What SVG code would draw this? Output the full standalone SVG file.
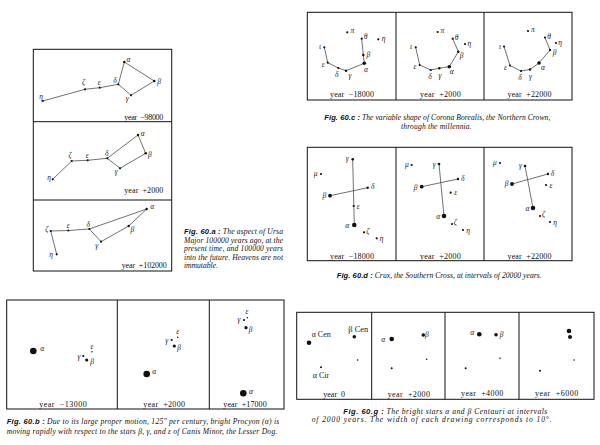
<svg xmlns="http://www.w3.org/2000/svg" width="600" height="445" viewBox="0 0 600 445">
<style>
.bg{fill:#fff}
.box{fill:none;stroke:#111;stroke-width:1}
.ln{fill:none;stroke:#333;stroke-width:0.7}
.s{fill:#111}
.g{font-family:"Liberation Serif","DejaVu Serif",serif;font-style:italic;font-size:7.5px;fill:#222;text-anchor:middle}
.lb{font-family:"Liberation Serif","DejaVu Serif",serif;font-size:8px;fill:#222}
.yr{font-family:"Liberation Serif","DejaVu Serif",serif;font-size:8px;fill:#111;white-space:pre}
.cap{font-family:"Liberation Serif","DejaVu Serif",serif;font-style:italic;font-size:7.6px;fill:#111}
.fig{font-family:"Liberation Sans","DejaVu Sans",sans-serif;font-weight:bold;font-style:italic}
</style>
<rect class="bg" x="0" y="0" width="600" height="445"/>

<!-- Frames -->
<g id="frames">
<rect class="box" x="33.3" y="49.3" width="138.4" height="221.7"/>
<line class="box" x1="33.3" y1="121.7" x2="171.7" y2="121.7"/>
<line class="box" x1="33.3" y1="200" x2="171.7" y2="200"/>
<rect class="box" x="6.7" y="300" width="277.3" height="109"/>
<line class="box" x1="117.3" y1="300" x2="117.3" y2="409"/>
<line class="box" x1="209.3" y1="300" x2="209.3" y2="409"/>
<rect class="box" x="307.3" y="12.3" width="264.7" height="87.7"/>
<line class="box" x1="396" y1="12.3" x2="396" y2="100"/>
<line class="box" x1="484" y1="12.3" x2="484" y2="100"/>
<rect class="box" x="307.3" y="147.3" width="264.7" height="113.4"/>
<line class="box" x1="396" y1="147.3" x2="396" y2="260.7"/>
<line class="box" x1="484" y1="147.3" x2="484" y2="260.7"/>
<rect class="box" x="296.7" y="312.3" width="297.3" height="87"/>
<line class="box" x1="371.7" y1="312.3" x2="371.7" y2="399.3"/>
<line class="box" x1="445" y1="312.3" x2="445" y2="399.3"/>
<line class="box" x1="519" y1="312.3" x2="519" y2="399.3"/>
</g>

<!-- Connectors -->
<g id="connectors">
<polyline class="ln" points="42.7,101 85,89.3 99.7,87.7 118.3,84.3"/>
<polygon class="ln" points="118.3,84.3 124.3,62 154.3,81 131,95.3"/>
<polyline class="ln" points="52.7,179.3 71.7,161 87.7,160.3 107.3,158.3"/>
<polygon class="ln" points="107.3,158.3 138,135 145.7,153.3 120,168.3"/>
<polyline class="ln" points="56.7,254.3 50.7,231 68.3,230.5 89.3,229"/>
<polygon class="ln" points="89.3,229 146.7,209 128.7,226 101,241.7"/>
<polyline class="ln" points="324.3,47.3 327.7,62.7 338.3,68 346,70.7 364.3,63.3 363.3,55 361.7,38.7"/>
<polyline class="ln" points="415.7,47.3 419.7,65 430.7,70 439.3,68.3 449.3,66.7 458.3,51.7 452.7,38.7"/>
<polyline class="ln" points="504,46.5 510,65.5 521,71 530,69.5 539,63 550,50 545,37.5"/>
<line class="ln" x1="352.7" y1="159.3" x2="354.3" y2="225"/>
<line class="ln" x1="330" y1="195.7" x2="367.7" y2="187.7"/>
<line class="ln" x1="439" y1="164" x2="444" y2="216"/>
<line class="ln" x1="421.7" y1="186.7" x2="458" y2="179"/>
<line class="ln" x1="525" y1="166" x2="533" y2="208"/>
<line class="ln" x1="512" y1="184" x2="548" y2="174"/>
</g>

<!-- Fig 60.a panel 1 -->
<g id="a1">
<g id="a1-eta"><circle class="s" cx="42.7" cy="101" r="1.1"/><text class="g" x="41" y="98.5">η</text></g>
<g id="a1-zeta"><circle class="s" cx="85" cy="89.3" r="1.1"/><text class="g" x="83.5" y="85.2">ζ</text></g>
<g id="a1-eps"><circle class="s" cx="99.7" cy="87.7" r="1.1"/><text class="g" x="99.3" y="85.2">ε</text></g>
<g id="a1-delta"><circle class="s" cx="118.3" cy="84.3" r="1.1"/><text class="g" x="115" y="82.5">δ</text></g>
<g id="a1-alpha"><circle class="s" cx="124.3" cy="62" r="1.2"/><text class="g" x="128.5" y="62">α</text></g>
<g id="a1-beta"><circle class="s" cx="154.3" cy="81" r="1.2"/><text class="g" x="159" y="84.2">β</text></g>
<g id="a1-gamma"><circle class="s" cx="131" cy="95.3" r="1.1"/><text class="g" x="127.3" y="101">γ</text></g>
<text class="yr" x="124.3" y="120.3" textLength="39" lengthAdjust="spacing">year  −98000</text>
</g>
<!-- Fig 60.a panel 2 -->
<g id="a2">
<g id="a2-alpha"><circle class="s" cx="138" cy="135" r="1.2"/><text class="g" x="142.7" y="135.8">α</text></g>
<g id="a2-beta"><circle class="s" cx="145.7" cy="153.3" r="1.2"/><text class="g" x="149.8" y="156.8">β</text></g>
<g id="a2-gamma"><circle class="s" cx="120" cy="168.3" r="1.1"/><text class="g" x="116.3" y="174.2">γ</text></g>
<g id="a2-delta"><circle class="s" cx="107.3" cy="158.3" r="1.1"/><text class="g" x="106.7" y="155.8">δ</text></g>
<g id="a2-eps"><circle class="s" cx="87.7" cy="160.3" r="1.1"/><text class="g" x="87.3" y="157.5">ε</text></g>
<g id="a2-zeta"><circle class="s" cx="71.7" cy="161" r="1.1"/><text class="g" x="70" y="157.5">ζ</text></g>
<g id="a2-eta"><circle class="s" cx="52.7" cy="179.3" r="1.1"/><text class="g" x="49" y="180.2">η</text></g>
<text class="yr" x="124.3" y="192.6" textLength="39" lengthAdjust="spacing">year  +2000</text>
</g>
<!-- Fig 60.a panel 3 -->
<g id="a3">
<g id="a3-alpha"><circle class="s" cx="146.7" cy="209" r="1.2"/><text class="g" x="152.3" y="209.2">α</text></g>
<g id="a3-beta"><circle class="s" cx="128.7" cy="226" r="1.2"/><text class="g" x="132.3" y="232">β</text></g>
<g id="a3-delta"><circle class="s" cx="89.3" cy="229" r="1.1"/><text class="g" x="88.3" y="226.5">δ</text></g>
<g id="a3-eps"><circle class="s" cx="68.3" cy="230.5" r="1.1"/><text class="g" x="68.3" y="228">ε</text></g>
<g id="a3-zeta"><circle class="s" cx="50.7" cy="231" r="1.1"/><text class="g" x="46.7" y="232">ζ</text></g>
<g id="a3-gamma"><circle class="s" cx="101" cy="241.7" r="1.1"/><text class="g" x="96.7" y="247.5">γ</text></g>
<g id="a3-eta"><circle class="s" cx="56.7" cy="254.3" r="1.1"/><text class="g" x="51" y="256.8">η</text></g>
<text class="yr" x="121.7" y="267.5" textLength="45" lengthAdjust="spacing">year  +102000</text>
</g>
<g id="cap-a">
<text class="cap" x="184" y="234.2" textLength="99" lengthAdjust="spacing"><tspan class="fig">Fig. 60.a :</tspan> The aspect of Ursa</text>
<text class="cap" x="184" y="242.5" textLength="99" lengthAdjust="spacing">Major 100000 years ago, at the</text>
<text class="cap" x="184" y="251.2" textLength="99" lengthAdjust="spacing">present time, and 100000 years</text>
<text class="cap" x="184" y="259.8" textLength="99" lengthAdjust="spacing">into the future. Heavens are not</text>
<text class="cap" x="184" y="268.2">immutable.</text>
</g>

<!-- Fig 60.b -->
<g id="b1">
<g id="b1-alpha"><circle class="s" cx="33.3" cy="351" r="3.3"/><text class="g" x="42.3" y="350.8">α</text></g>
<g id="b1-eps"><circle class="s" cx="92" cy="351.7" r="0.8"/><text class="g" x="92" y="349">ε</text></g>
<g id="b1-gamma"><circle class="s" cx="83.3" cy="356" r="1.1"/><text class="g" x="79" y="359">γ</text></g>
<g id="b1-beta"><circle class="s" cx="86.7" cy="360" r="1.6"/><text class="g" x="92" y="364">β</text></g>
<text class="yr" x="39.3" y="406.5" textLength="47.4" lengthAdjust="spacing">year  −13000</text>
</g>
<g id="b2">
<g id="b2-alpha"><circle class="s" cx="146.7" cy="374" r="3.3"/><text class="g" x="154.3" y="374.2">α</text></g>
<g id="b2-gamma"><circle class="s" cx="171.7" cy="340" r="1.1"/><text class="g" x="166.7" y="343">γ</text></g>
<g id="b2-eps"><circle class="s" cx="177.7" cy="337.3" r="0.8"/><text class="g" x="177.7" y="334.2">ε</text></g>
<g id="b2-beta"><circle class="s" cx="174.3" cy="346" r="1.6"/><text class="g" x="179" y="350.2">β</text></g>
<text class="yr" x="143.3" y="406.5" textLength="41.7" lengthAdjust="spacing">year  +2000</text>
</g>
<g id="b3">
<g id="b3-gamma"><circle class="s" cx="244" cy="320" r="1.1"/><text class="g" x="239" y="322">γ</text></g>
<g id="b3-eps"><circle class="s" cx="247.3" cy="317.7" r="0.8"/><text class="g" x="247" y="314.2">ε</text></g>
<g id="b3-beta"><circle class="s" cx="246" cy="327.7" r="1.6"/><text class="g" x="250.7" y="331.8">β</text></g>
<g id="b3-alpha"><circle class="s" cx="243.3" cy="393.3" r="3.3"/><text class="g" x="251" y="394.2">α</text></g>
<text class="yr" x="223.3" y="406.5" textLength="43.4" lengthAdjust="spacing">year  +17000</text>
</g>
<g id="cap-b">
<text class="cap" x="6.7" y="424.2" textLength="272.6" lengthAdjust="spacing"><tspan class="fig">Fig. 60.b :</tspan> Due to its large proper motion, 125″ per century, bright Procyon (α) is</text>
<text class="cap" x="6.7" y="433.5" textLength="270.6" lengthAdjust="spacing">moving rapidly with respect to the stars β, γ, and ε of Canis Minor, the Lesser Dog.</text>
</g>

<!-- Fig 60.c -->
<g id="c1">
<g id="c1-pi"><circle class="s" cx="347.3" cy="32.3" r="1.1"/><text class="g" x="352.3" y="33.2">π</text></g>
<g id="c1-theta"><circle class="s" cx="361.7" cy="38.7" r="1.1"/><text class="g" x="365.7" y="39.2">θ</text></g>
<g id="c1-eta"><circle class="s" cx="378.3" cy="39.3" r="1.1"/><text class="g" x="383.7" y="41.2">η</text></g>
<g id="c1-iota"><circle class="s" cx="324.3" cy="47.3" r="1.1"/><text class="g" x="320" y="49.2">ι</text></g>
<g id="c1-beta"><circle class="s" cx="363.3" cy="55" r="1.2"/><text class="g" x="368.3" y="56.8">β</text></g>
<g id="c1-alpha"><circle class="s" cx="364.3" cy="63.3" r="1.8"/><text class="g" x="366" y="71.8">α</text></g>
<g id="c1-eps"><circle class="s" cx="327.7" cy="62.7" r="1.1"/><text class="g" x="323.3" y="66.8">ε</text></g>
<g id="c1-delta"><circle class="s" cx="338.3" cy="68" r="1.1"/><text class="g" x="336.7" y="76.5">δ</text></g>
<g id="c1-gamma"><circle class="s" cx="346" cy="70.7" r="1.2"/><text class="g" x="350" y="77.8">γ</text></g>
<text class="yr" x="330" y="96.8" textLength="44" lengthAdjust="spacing">year  −18000</text>
</g>
<g id="c2">
<g id="c2-pi"><circle class="s" cx="437.7" cy="32" r="1.1"/><text class="g" x="442.3" y="32.5">π</text></g>
<g id="c2-theta"><circle class="s" cx="452.7" cy="38.7" r="1.1"/><text class="g" x="456.7" y="39.8">θ</text></g>
<g id="c2-eta"><circle class="s" cx="465" cy="44" r="1.1"/><text class="g" x="469.3" y="45.8">η</text></g>
<g id="c2-iota"><circle class="s" cx="415.7" cy="47.3" r="1.1"/><text class="g" x="411" y="49.2">ι</text></g>
<g id="c2-beta"><circle class="s" cx="458.3" cy="51.7" r="1.2"/><text class="g" x="461.7" y="57.5">β</text></g>
<g id="c2-alpha"><circle class="s" cx="449.3" cy="66.7" r="1.8"/><text class="g" x="451.7" y="74.2">α</text></g>
<g id="c2-eps"><circle class="s" cx="419.7" cy="65" r="1.1"/><text class="g" x="415" y="69.2">ε</text></g>
<g id="c2-delta"><circle class="s" cx="430.7" cy="70" r="1.1"/><text class="g" x="430" y="79.2">δ</text></g>
<g id="c2-gamma"><circle class="s" cx="439.3" cy="68.3" r="1.2"/><text class="g" x="440" y="77.8">γ</text></g>
<text class="yr" x="420" y="96.8" textLength="40.7" lengthAdjust="spacing">year  +2000</text>
</g>
<g id="c3">
<g id="c3-pi"><circle class="s" cx="528" cy="31" r="1.1"/><text class="g" x="533" y="32">π</text></g>
<g id="c3-theta"><circle class="s" cx="545" cy="37.5" r="1.1"/><text class="g" x="549" y="38.5">θ</text></g>
<g id="c3-eta"><circle class="s" cx="556" cy="43" r="1.1"/><text class="g" x="560" y="45">η</text></g>
<g id="c3-iota"><circle class="s" cx="504" cy="46.5" r="1.1"/><text class="g" x="500" y="48.5">ι</text></g>
<g id="c3-beta"><circle class="s" cx="550" cy="50" r="1.2"/><text class="g" x="554.5" y="54.5">β</text></g>
<g id="c3-alpha"><circle class="s" cx="539" cy="63" r="1.8"/><text class="g" x="543" y="70">α</text></g>
<g id="c3-eps"><circle class="s" cx="510" cy="65.5" r="1.1"/><text class="g" x="505.5" y="70">ε</text></g>
<g id="c3-delta"><circle class="s" cx="521" cy="71" r="1.1"/><text class="g" x="520" y="80">δ</text></g>
<g id="c3-gamma"><circle class="s" cx="530" cy="69.5" r="1.2"/><text class="g" x="530.5" y="78.5">γ</text></g>
<text class="yr" x="507.5" y="96.8" textLength="44" lengthAdjust="spacing">year  +22000</text>
</g>
<g id="cap-c">
<text class="cap" x="324.3" y="119.8" textLength="226" lengthAdjust="spacing"><tspan class="fig">Fig. 60.c :</tspan> The variable shape of Corona Borealis, the Northern Crown,</text>
<text class="cap" x="401" y="128.5" textLength="70.7" lengthAdjust="spacing">through the millennia.</text>
</g>

<!-- Fig 60.d -->
<g id="d1">
<g id="d1-gamma"><circle class="s" cx="352.7" cy="159.3" r="1.3"/><text class="g" x="347.3" y="160.8">γ</text></g>
<g id="d1-mu"><circle class="s" cx="321" cy="174" r="1.1"/><text class="g" x="315.7" y="175.8">μ</text></g>
<g id="d1-delta"><circle class="s" cx="367.7" cy="187.7" r="1.2"/><text class="g" x="372.7" y="189.2">δ</text></g>
<g id="d1-beta"><circle class="s" cx="330" cy="195.7" r="1.9"/><text class="g" x="324.3" y="198.2">β</text></g>
<g id="d1-eps"><circle class="s" cx="353.7" cy="206" r="1.1"/><text class="g" x="358.3" y="208.5">ε</text></g>
<g id="d1-alpha"><circle class="s" cx="354.3" cy="225" r="2.3"/><text class="g" x="347.3" y="227.5">α</text></g>
<g id="d1-zeta"><circle class="s" cx="364" cy="232.3" r="1.1"/><text class="g" x="367.7" y="233.5">ζ</text></g>
<g id="d1-eta"><circle class="s" cx="376.7" cy="238.3" r="1.1"/><text class="g" x="381.7" y="241.2">η</text></g>
<text class="yr" x="330" y="258.5" textLength="44" lengthAdjust="spacing">year  −18000</text>
</g>
<g id="d2">
<g id="d2-mu"><circle class="s" cx="411.7" cy="165" r="1.1"/><text class="g" x="407" y="166.8">μ</text></g>
<g id="d2-gamma"><circle class="s" cx="439" cy="164" r="1.3"/><text class="g" x="434.3" y="166.5">γ</text></g>
<g id="d2-delta"><circle class="s" cx="458" cy="179" r="1.2"/><text class="g" x="462.7" y="181.2">δ</text></g>
<g id="d2-beta"><circle class="s" cx="421.7" cy="186.7" r="1.9"/><text class="g" x="415.7" y="189.8">β</text></g>
<g id="d2-eps"><circle class="s" cx="450.7" cy="192.7" r="1.1"/><text class="g" x="455.7" y="195.2">ε</text></g>
<g id="d2-alpha"><circle class="s" cx="444" cy="216" r="2.3"/><text class="g" x="438.3" y="218.5">α</text></g>
<g id="d2-zeta"><circle class="s" cx="452" cy="224" r="1.1"/><text class="g" x="455.3" y="224.5">ζ</text></g>
<g id="d2-eta"><circle class="s" cx="463" cy="230" r="1.1"/><text class="g" x="468" y="232.8">η</text></g>
<text class="yr" x="420" y="258.5" textLength="40.7" lengthAdjust="spacing">year  +2000</text>
</g>
<g id="d3">
<g id="d3-mu"><circle class="s" cx="500" cy="163" r="1.1"/><text class="g" x="495" y="164.5">μ</text></g>
<g id="d3-gamma"><circle class="s" cx="525" cy="166" r="1.3"/><text class="g" x="520.5" y="168">γ</text></g>
<g id="d3-delta"><circle class="s" cx="548" cy="174" r="1.2"/><text class="g" x="552.5" y="176">δ</text></g>
<g id="d3-beta"><circle class="s" cx="512" cy="184" r="1.9"/><text class="g" x="506.5" y="186.2">β</text></g>
<g id="d3-eps"><circle class="s" cx="546" cy="185" r="1.1"/><text class="g" x="551" y="187.5">ε</text></g>
<g id="d3-alpha"><circle class="s" cx="533" cy="208" r="2.3"/><text class="g" x="527.5" y="210.5">α</text></g>
<g id="d3-zeta"><circle class="s" cx="540" cy="216" r="1.1"/><text class="g" x="543.5" y="217">ζ</text></g>
<g id="d3-eta"><circle class="s" cx="550" cy="222" r="1.1"/><text class="g" x="555" y="224.5">η</text></g>
<text class="yr" x="507.5" y="258.5" textLength="44" lengthAdjust="spacing">year  +22000</text>
</g>
<g id="cap-d">
<text class="cap" x="336.7" y="278.2" textLength="205" lengthAdjust="spacing"><tspan class="fig">Fig. 60.d :</tspan> Crux, the Southern Cross, at intervals of 20000 years.</text>
</g>

<!-- Fig 60.g -->
<g id="g1">
<g id="g1-acen"><circle class="s" cx="309" cy="342.7" r="2.3"/><text class="lb" x="311.7" y="336.8" textLength="19" lengthAdjust="spacingAndGlyphs">α Cen</text></g>
<g id="g1-bcen"><circle class="s" cx="354.3" cy="336.7" r="1.8"/><text class="lb" x="348.3" y="331.8" textLength="20" lengthAdjust="spacingAndGlyphs">β Cen</text></g>
<g id="g1-x"><circle class="s" cx="357.7" cy="360" r="0.8"/></g>
<g id="g1-acir"><circle class="s" cx="321" cy="367.3" r="1"/><text class="lb" x="312.7" y="377.5" textLength="16.6" lengthAdjust="spacingAndGlyphs">α Cir</text></g>
<text class="yr" x="323.3" y="396.8" textLength="21.7" lengthAdjust="spacing">year  0</text>
</g>
<g id="g2">
<g id="g2-a"><circle class="s" cx="391.7" cy="339" r="2.3"/><text class="g" x="383.3" y="341.5">α</text></g>
<g id="g2-b"><circle class="s" cx="423.3" cy="335" r="1.8"/><text class="g" x="426.9" y="336.8">β</text></g>
<g id="g2-x"><circle class="s" cx="426.7" cy="359.3" r="0.8"/></g>
<g id="g2-c"><circle class="s" cx="391.7" cy="368.3" r="1"/></g>
<text class="yr" x="387.7" y="396.8" textLength="42.3" lengthAdjust="spacing">year  +2000</text>
</g>
<g id="g3">
<g id="g3-a"><circle class="s" cx="479.3" cy="334.3" r="2.3"/><text class="g" x="472.3" y="334.8">α</text></g>
<g id="g3-b"><circle class="s" cx="496" cy="334.7" r="1.8"/><text class="g" x="501.7" y="336.8">β</text></g>
<g id="g3-x"><circle class="s" cx="500" cy="358.3" r="0.8"/></g>
<g id="g3-c"><circle class="s" cx="465.7" cy="368.3" r="1"/></g>
<text class="yr" x="461" y="395.8" textLength="42.3" lengthAdjust="spacing">year  +4000</text>
</g>
<g id="g4">
<g id="g4-a"><circle class="s" cx="569" cy="331" r="2.3"/></g>
<g id="g4-b"><circle class="s" cx="570" cy="337" r="2"/></g>
<g id="g4-x"><circle class="s" cx="574" cy="360" r="0.8"/></g>
<g id="g4-c"><circle class="s" cx="540" cy="370.7" r="1"/></g>
<text class="yr" x="535" y="395.8" textLength="43.3" lengthAdjust="spacing">year  +6000</text>
</g>
<g id="cap-g">
<text class="cap" x="343.3" y="414.2" textLength="204" lengthAdjust="spacing"><tspan class="fig">Fig. 60.g :</tspan> The bright stars α and β Centauri at intervals</text>
<text class="cap" x="311.7" y="421.8" textLength="240" lengthAdjust="spacing">of 2000 years. The width of each drawing corresponds to 10°.</text>
</g>
</svg>
